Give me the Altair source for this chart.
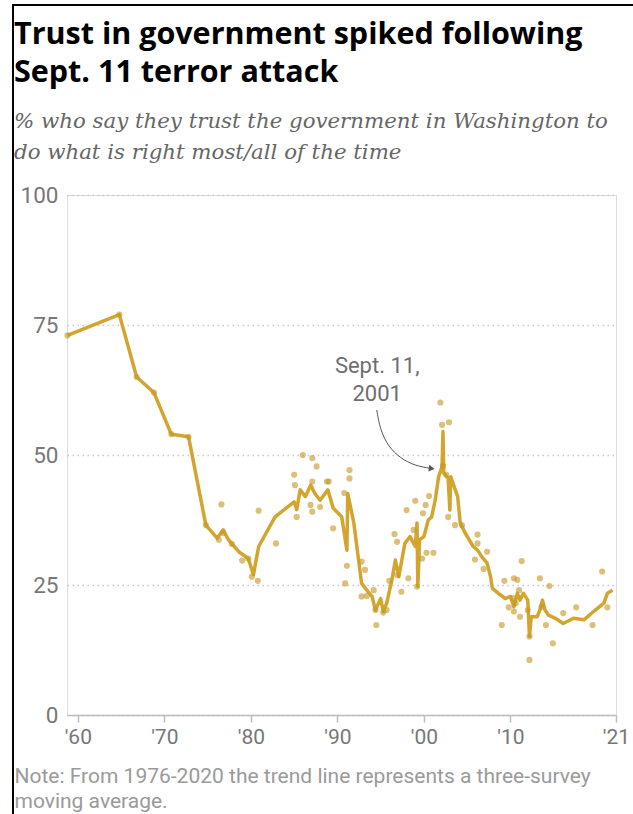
import altair as alt
import pandas as pd

# ---- data ----
trend_year = [1958.8, 1964.8, 1966.8, 1968.8, 1970.8, 1972.8, 1974.8, 1976.1, 1976.8, 1977.4,
              1978.6, 1979.7, 1980.3, 1980.9, 1982.8, 1985.0, 1985.3, 1985.7, 1986.3, 1986.9,
              1987.4, 1988.0, 1988.9, 1989.5, 1990.1, 1990.5, 1991.1, 1991.2, 1991.9, 1992.8,
              1993.4, 1994.0, 1994.4, 1995.0, 1995.3, 1995.7, 1996.3, 1996.7, 1997.1, 1997.8,
              1998.4, 1999.0, 1999.2, 1999.3, 1999.5, 2000.0, 2000.2, 2000.5, 2000.9, 2001.3,
              2001.7, 2002.1, 2002.2, 2002.3, 2002.8, 2003.0, 2003.1, 2003.9, 2004.2, 2004.8,
              2005.7, 2006.2, 2006.7, 2007.3, 2007.7, 2007.9, 2008.6, 2009.4, 2010.0, 2010.4,
              2010.8, 2011.1, 2011.5, 2012.0, 2012.2, 2012.4, 2013.1, 2013.4, 2013.7, 2014.0,
              2014.4, 2015.2, 2016.1, 2017.3, 2018.5, 2019.6, 2020.8, 2021.2, 2021.8]
trend_value = [73, 77, 65, 62, 54, 53.5, 36.5, 34, 35.6, 33.7,
               31.4, 30.1, 27, 32.4, 38.1, 41, 39.5, 43.3, 42, 44.2,
               42.6, 41.3, 43.3, 39.8, 38.8, 38.1, 31.7, 42.6, 36.9, 25.3,
               24, 22.8, 20.2, 22.4, 19.9, 21.5, 26, 29.8, 26.6, 33,
               34.3, 32.4, 36.9, 24.7, 33.7, 34.3, 35.6, 37.5, 38.1, 41.3,
               45.8, 47.8, 54.5, 46.5, 45.5, 39.4, 45.8, 42, 36.9, 34.9,
               32.4, 31.7, 30.4, 29.2, 26.6, 24.4, 23.4, 22.4, 22.8, 20.8,
               23.4, 22.1, 23.4, 22.1, 15.1, 18.9, 18.9, 20.2, 22.1, 20.2,
               19.2, 18.6, 17.6, 18.6, 18.3, 19.9, 21.5, 23.4, 24]

dot_year = [1958.8, 1964.8, 1966.8, 1968.8, 1970.8, 1972.8, 1974.8,
            1976.6, 1976.3, 1976.8, 1977.8, 1979.0, 1979.7, 1980.1, 1980.8, 1980.9, 1982.9,
            1985.0, 1985.1, 1985.3, 1986.0, 1987.1, 1987.6, 1987.1, 1986.9, 1987.1, 1988.0,
            1988.8, 1989.5, 1989.0, 1990.8, 1991.4, 1991.4, 1991.1, 1990.9, 1992.8, 1993.2,
            1992.8, 1993.4, 1994.2, 1994.4, 1995.3, 1994.5, 1995.7, 1996.0, 1996.6, 1996.9,
            1996.9, 1997.4, 1998.0, 1998.2, 1999.0, 1998.8, 1999.2, 2000.2, 1999.9, 1999.8,
            2000.3, 2001.1, 2000.6, 2001.9, 2002.1, 2002.9, 2002.2, 2002.6, 2002.8, 2003.6,
            2004.4, 2006.2, 2006.2, 2007.3, 2005.9, 2006.9, 2011.3, 2009.3, 2010.4, 2010.8,
            2013.4, 2014.5, 2009.8, 2010.4, 2011.1, 2012.0, 2009.0, 2012.2, 2012.2, 2013.6,
            2014.1, 2014.9, 2016.1, 2017.6, 2019.5, 2020.6, 2021.2, 2010.3, 2010.6, 2011.0]
dot_value = [73, 77, 65, 62, 54, 53.5, 36.5,
             40.5, 33.7, 35, 32.9, 29.7, 30.1, 26.6, 25.8, 39.3, 33,
             46.2, 44.2, 38.1, 50, 49.4, 47.8, 44.9, 40.4, 39.1, 40,
             44.9, 35.9, 44.9, 42.7, 47.1, 45.5, 28.7, 25.3, 29.5, 27.9,
             22.8, 22.9, 24, 20.2, 19.7, 17.3, 20.2, 25.8, 34.8, 33.3,
             26.9, 23.7, 39.4, 26.3, 41.2, 35.6, 24.7, 40.4, 38.8, 30.1,
             31.2, 31.2, 42.1, 60.1, 55.8, 56.3, 47.9, 46.2, 38.1, 36.5,
             36.5, 34.7, 33, 31.4, 29.9, 28.1, 29.6, 25.8, 26.3, 26,
             26.3, 24.8, 20.7, 19.9, 18.9, 20.2, 17.3, 15.1, 10.6, 20.8,
             17.3, 13.8, 19.6, 20.7, 17.3, 27.6, 20.7, 22.5, 21.5, 24]

tick_years = [1960, 1970, 1980, 1990, 2000, 2010, 2022.2]
y_ticks = [0, 25, 50, 75, 100]

annot_text = ["Sept. 11,", "2001"]
annot_year = [1994.6, 1994.6]
annot_value = [67.2, 61.8]
arrow_year = [1994.55, 1994.95, 1995.9, 1997.26, 1999.0, 2000.9]
arrow_value = [58.65, 54.8, 51.6, 49.4, 47.9, 47.4]

title_lines = ["Trust in government spiked following", "Sept. 11 terror attack"]
subtitle_lines = ["% who say they trust the government in Washington to",
                  "do what is right most/all of the time"]
note_lines = ["Note: From 1976-2020 the trend line represents a three-survey",
              "moving average."]

GOLD = "#d3a52f"
SANS = "Roboto"

trend = pd.DataFrame({"year": trend_year, "value": trend_value})
dots = pd.DataFrame({"year": dot_year, "value": dot_value})
annot = pd.DataFrame({"year": annot_year, "value": annot_value, "text": annot_text})
arrow = pd.DataFrame({"year": arrow_year, "value": arrow_value, "order": list(range(len(arrow_year)))})
arrow_head = arrow.tail(1)

xscale = alt.Scale(domain=[1958.75, 2022.2], nice=False, zero=False)
yscale = alt.Scale(domain=[0, 100], nice=False)

x_axis = alt.Axis(
    values=tick_years,
    labelExpr="datum.value > 2020 ? \"'21\" : \"'\" + substring(toString(datum.value), 2, 4)",
    grid=False, domainColor="#bdbdbd", domainWidth=1.5, tickColor="#bdbdbd",
    tickWidth=1.5, tickSize=7, labelColor="#777777", labelFont=SANS, labelFontSize=21,
    labelPadding=4, labelFlush=False,
    title=note_lines, titleFont=SANS, titleFontSize=21, titleFontWeight="normal",
    titleColor="#9a9a9a", titleAnchor="start", titleAlign="left", titleBaseline="alphabetic",
    titleX=-53, titleY=67, titleLineHeight=25,
)
y_axis = alt.Axis(
    values=y_ticks, domain=False, ticks=False, labelColor="#777777", labelFont=SANS,
    labelFontSize=22.5, labelPadding=9, gridColor="#c8c8c8", gridDash=[1.5, 3.5], gridWidth=1.5,
    title=None,
)

base_x = alt.X("year:Q", scale=xscale, axis=x_axis)
base_y = alt.Y("value:Q", scale=yscale, axis=y_axis)

grid_layer = alt.Chart(trend).mark_point(opacity=0).encode(x=base_x, y=base_y)

line = alt.Chart(trend).mark_line(color=GOLD, strokeWidth=3.5, strokeJoin="round").encode(
    x=alt.X("year:Q", scale=xscale), y=alt.Y("value:Q", scale=yscale), order="year:Q")

pts = alt.Chart(dots).mark_circle(color="#c49a25", opacity=0.62, size=38).encode(
    x=alt.X("year:Q", scale=xscale), y=alt.Y("value:Q", scale=yscale))

txt = alt.Chart(annot).mark_text(font=SANS, fontSize=22, color="#6e6e6e", align="center",
                                 baseline="middle").encode(
    x=alt.X("year:Q", scale=xscale), y=alt.Y("value:Q", scale=yscale), text="text:N")

arr = alt.Chart(arrow).mark_line(color="#555555", strokeWidth=1, interpolate="basis").encode(
    x=alt.X("year:Q", scale=xscale), y=alt.Y("value:Q", scale=yscale), order="order:Q")

head = alt.Chart(arrow_head).mark_point(shape="triangle-right", filled=True, color="#555555",
                                        size=45, opacity=1, angle=8).encode(
    x=alt.X("year:Q", scale=xscale), y=alt.Y("value:Q", scale=yscale))

frame_data = alt.Data(values=[{}])
left_border = alt.Chart(frame_data).mark_rule(color="black", strokeWidth=2).encode(
    x=alt.value(-54), y=alt.value(-190), y2=alt.value(619))
top_border = alt.Chart(frame_data).mark_rule(color="black", strokeWidth=2).encode(
    x=alt.value(-55), x2=alt.value(566), y=alt.value(-190))

chart = alt.layer(grid_layer, line, pts, arr, head, txt, left_border, top_border).properties(
    width=549, height=520,
    padding={"left": 67, "top": 195, "right": 17, "bottom": 99},
    autosize=alt.AutoSizeParams(type="none"),
    title=alt.TitleParams(
        text=title_lines, subtitle=subtitle_lines, anchor="start", frame="group",
        font="Open Sans", fontSize=30.5, fontWeight="bold", color="#000000", lineHeight=38.5,
        subtitleFont="DejaVu Serif", subtitleFontStyle="italic", subtitleFontSize=21.3,
        subtitleColor="#666666", subtitleLineHeight=31, subtitlePadding=22,
        dx=-53, offset=-159,
    ),
).configure_view(strokeWidth=0).configure(background="white")

chart.save("out.html", embed_options={"renderer": "svg", "actions": False})
